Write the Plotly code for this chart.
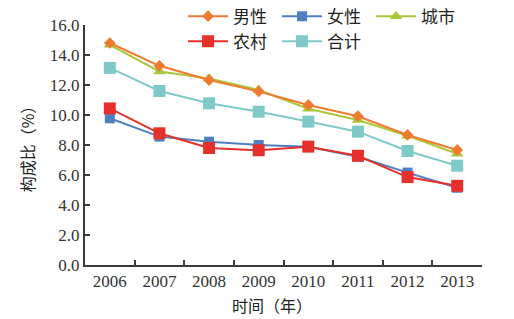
import plotly.graph_objects as go

years = ["2006", "2007", "2008", "2009", "2010", "2011", "2012", "2013"]
male = [14.8, 13.28, 12.33, 11.57, 10.67, 9.92, 8.67, 7.67]
female = [9.78, 8.56, 8.22, 8.0, 7.88, 7.22, 6.16, 5.15]
city = [14.68, 12.9, 12.43, 11.67, 10.42, 9.67, 8.62, 7.42]
rural = [10.44, 8.78, 7.8, 7.65, 7.89, 7.28, 5.86, 5.28]
total = [13.14, 11.6, 10.78, 10.22, 9.56, 8.89, 7.6, 6.62]
y_ticks = [0, 2, 4, 6, 8, 10, 12, 14, 16]
y_tick_text = ["0.0", "2.0", "4.0", "6.0", "8.0", "10.0", "12.0", "14.0", "16.0"]

CJK = "Noto Sans CJK SC"
SERIF = "Liberation Serif"

fig = go.Figure()

series = [
    ("男性", male, "#EF7A30", "diamond", 9, "legend"),
    ("女性", female, "#4E7FC2", "square", 10, "legend"),
    ("城市", city, "#A8C83A", "triangle-up", 11, "legend"),
    ("农村", rural, "#E5302C", "square", 12, "legend2"),
    ("合计", total, "#7FC9C9", "square", 12, "legend2"),
]
draw_order = [4, 1, 3, 2, 0]
for i in draw_order:
    name, vals, col, sym, sz, lg = series[i]
    fig.add_trace(go.Scatter(
        x=years, y=vals, name=name, mode="lines+markers",
        line=dict(color=col, width=2),
        marker=dict(symbol=sym, size=sz, color=col),
        legend=lg, legendrank=i,
    ))

axis_col = "#3a3a3a"
leg_common = dict(
    orientation="h", xanchor="left", yanchor="middle",
    font=dict(family=CJK, size=17, color="#222"),
    entrywidth=39, entrywidthmode="pixels", traceorder="normal",
    bgcolor="rgba(0,0,0,0)", itemwidth=40,
)
fig.update_layout(
    width=514, height=319,
    margin=dict(l=85, r=32, t=25, b=54, autoexpand=False),
    plot_bgcolor="white", paper_bgcolor="white",
    showlegend=True,
    legend=dict(x=0.247, y=1.035, **leg_common),
    legend2=dict(x=0.247, y=0.93, **leg_common),
    xaxis=dict(
        type="category", range=[-0.5, 7.5], tickson="boundaries",
        ticks="inside", ticklen=5, tickwidth=1.5, tickcolor=axis_col,
        showline=True, linecolor=axis_col, linewidth=2, showgrid=False,
        tickfont=dict(family=SERIF, size=17, color="#333"),
    ),
    yaxis=dict(
        range=[0, 16], tickvals=y_ticks, ticktext=y_tick_text,
        ticks="inside", ticklen=5, tickwidth=1.5, tickcolor=axis_col,
        showline=True, linecolor=axis_col, linewidth=2, showgrid=False, zeroline=False,
        tickfont=dict(family=SERIF, size=17, color="#333"),
        title=dict(text="构成比（%）", font=dict(family=CJK, size=16, color="#222"), standoff=11),
    ),
    annotations=[dict(
        text="时间（年）", xref="paper", yref="paper", x=0.47, y=-0.165,
        xanchor="center", yanchor="middle", showarrow=False,
        font=dict(family=CJK, size=16, color="#222"),
    )],
)

fig.write_html(
    "out.html",
    config={"displayModeBar": False},
    post_script="document.body.style.margin='0';",
)
